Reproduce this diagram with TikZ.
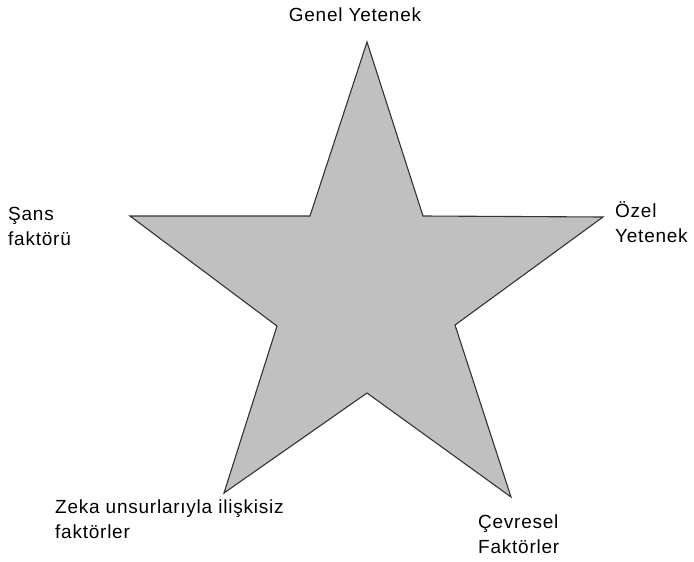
\documentclass[tikz,border=0pt]{standalone}
\usepackage{fontspec}
\usepackage{xcolor}
\usepackage{tikz}
\setmainfont[LetterSpace=4]{Liberation Sans}
\usetikzlibrary{positioning}
\definecolor{stFill}{HTML}{C0C0C0}
\definecolor{stLine}{HTML}{333333}
\definecolor{stText}{HTML}{000000}
\tikzset{
  starshape/.style={fill=stFill, draw=stLine, line width=1.1pt, line join=miter},
  factor/.style={
    anchor=base west, inner sep=0pt, align=left, text=stText,
    font=\fontsize{19}{25}\selectfont
  }
}
\begin{document}
\begin{tikzpicture}[x=1pt, y=-1pt]
  \useasboundingbox (0,0) rectangle (694,562);
  % star
  \draw[starshape] (367,42) -- (423,216) -- (603,217) -- (455,325) -- (511,497)
    -- (367,393) -- (224,493) -- (277,326) -- (130,216) -- (310,216) -- cycle;
  % labels (base = last line)
  \node[factor, anchor=base] (genel) at (355,21) {Genel Yetenek};
  \node[factor] (ozel) at (615,242) {Özel\\Yetenek};
  \node[factor] (sans) at (8,245) {Şans\\faktörü};
  \node[factor] (zeka) at (55,538) {Zeka unsurlarıyla ilişkisiz\\faktörler};
  \node[factor] (cevre) at (478,553) {Çevresel\\Faktörler};
\end{tikzpicture}
\end{document}
